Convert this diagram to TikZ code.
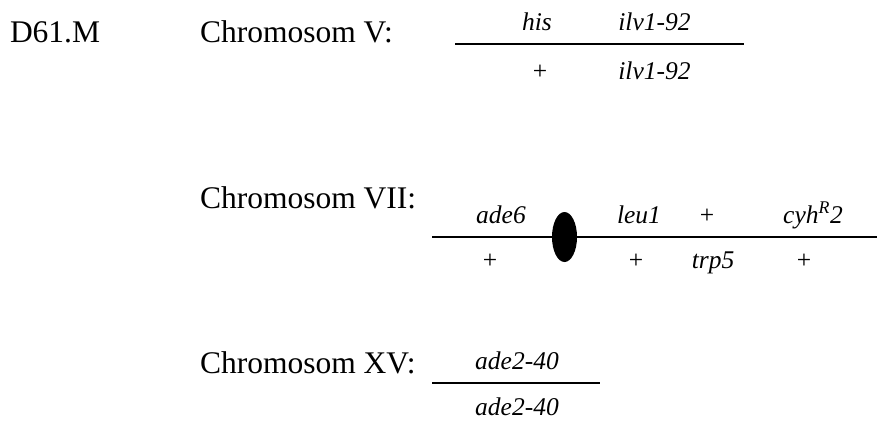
\documentclass[tikz,border=0pt]{standalone}
\usepackage{fontspec}
\setmainfont{Liberation Serif}
\begin{document}
\begin{tikzpicture}[x=1pt,y=-1pt,
  every node/.style={inner sep=0pt,outer sep=0pt},
  maintext/.style={anchor=base west,font=\fontsize{31.5}{36}\selectfont},
  gene/.style={anchor=base,font=\fontsize{25.5}{30}\selectfont\itshape},
  plus/.style={anchor=base,font=\fontsize{25.5}{30}\selectfont},
  chrom/.style={line width=2pt}]
\useasboundingbox (0,0) rectangle (877,420);
% Row 1
\node[maintext] (d61) at (10,42) {D61.M};
\node[maintext] (c5) at (200,42) {Chromosom V:};
\coordinate (v1) at (455,44);
\coordinate (v2) at (744,44);
\draw[chrom] (v1) -- (v2);
\node[gene] (his) at (537,31) {his};
\node[gene] (ilvA) at (654.5,31) {ilv1-92};
\node[plus] (p5) at (540,79) {+};
\node[gene] (ilvB) at (654.5,79) {ilv1-92};
% Row 2
\node[maintext] (c7) at (200,208) {Chromosom VII:};
\coordinate (s1) at (432,237);
\coordinate (s2) at (877,237);
\draw[chrom] (s1) -- (s2);
\fill (564.5,237) ellipse [x radius=12.5, y radius=25];
\node[gene] (ade6) at (501,223) {ade6};
\node[gene] (leu1) at (639,223) {leu1};
\node[plus] (pa) at (707,223) {+};
\node[gene] (cyh) at (813,223) {cyh\textsuperscript{R}2};
\node[plus] (pb) at (490,268) {+};
\node[plus] (pc) at (636,268) {+};
\node[gene] (trp5) at (713,268) {trp5};
\node[plus] (pd) at (804,268) {+};
% Row 3
\node[maintext] (c15) at (200,373) {Chromosom XV:};
\coordinate (x1) at (432,383);
\coordinate (x2) at (600,383);
\draw[chrom] (x1) -- (x2);
\node[gene] (adeA) at (517,369) {ade2-40};
\node[gene] (adeB) at (517,415) {ade2-40};
\end{tikzpicture}
\end{document}
